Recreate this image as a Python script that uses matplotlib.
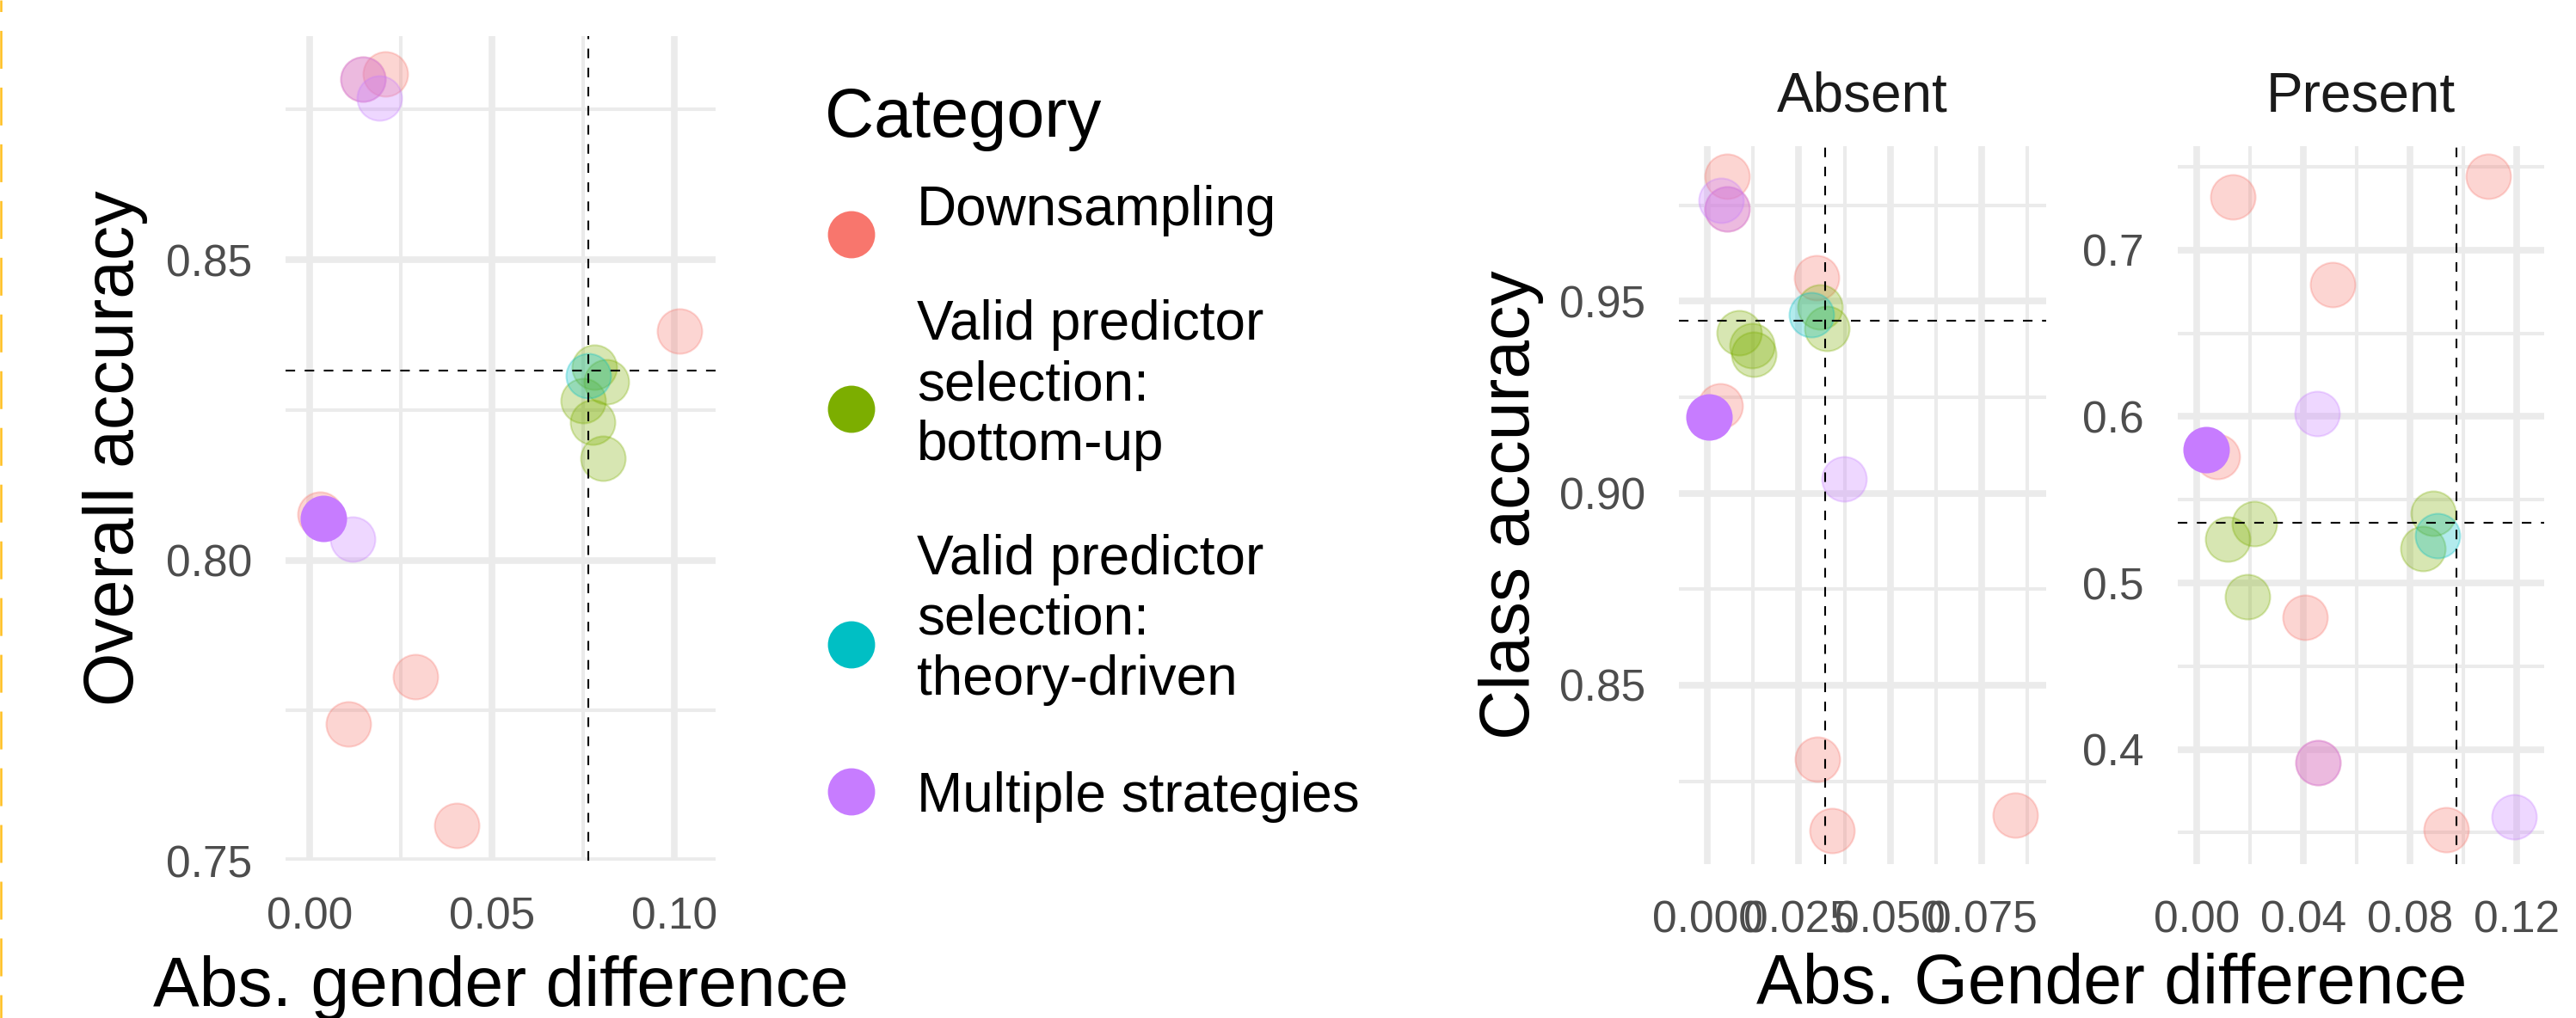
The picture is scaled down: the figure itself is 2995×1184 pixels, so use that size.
import matplotlib.pyplot as plt
import matplotlib.colors as mcolors
from matplotlib.lines import Line2D
from matplotlib.ticker import FormatStrFormatter

plt.rcParams['font.family'] = ['Liberation Sans', 'DejaVu Sans']
plt.rcParams['lines.scale_dashes'] = False

# Categories and ggplot-style hue colours
categories = ['Downsampling',
              'Valid predictor\nselection:\nbottom-up',
              'Valid predictor\nselection:\ntheory-driven',
              'Multiple strategies']
cat_colors = ['#F8766D', '#7CAE00', '#00BFC4', '#C77CFF']

# category of each model (same order in all panels)
point_cat = [0] * 7 + [1] * 5 + [2] + [3] * 4
best = 15  # model shown fully opaque

# Overall accuracy vs abs. gender difference
overall_x = [0.0208, 0.0146, 0.1015, 0.0028, 0.0290, 0.0107, 0.0403,
             0.0780, 0.0814, 0.0749, 0.0776, 0.0803,
             0.0765,
             0.0146, 0.0191, 0.0037, 0.0118]
overall_y = [0.8810, 0.8801, 0.8381, 0.8077, 0.7806, 0.7727, 0.7558,
             0.8322, 0.8297, 0.8265, 0.8230, 0.8170,
             0.8307,
             0.8801, 0.8769, 0.8069, 0.8035]
overall_ref = (0.0765, 0.8316)

# Class accuracy, class "Absent"
absent_x = [0.0053, 0.0055, 0.0298, 0.0035, 0.0301, 0.0341, 0.0841,
            0.0308, 0.0327, 0.0087, 0.0122, 0.0126,
            0.0285,
            0.0038, 0.0055, 0.0004, 0.0373]
absent_y = [0.9826, 0.9740, 0.9561, 0.9228, 0.8306, 0.8121, 0.8162,
            0.9486, 0.9430, 0.9417, 0.9385, 0.9363,
            0.9466,
            0.9763, 0.9740, 0.9199, 0.9038]
absent_ref = (0.0321, 0.9449)

# Class accuracy, class "Present"
present_x = [0.1094, 0.0136, 0.0508, 0.0077, 0.0407, 0.0934, 0.0454,
             0.0887, 0.0216, 0.0117, 0.0847, 0.0189,
             0.0903,
             0.0454, 0.0450, 0.0035, 0.1190]
present_y = [0.7441, 0.7320, 0.6793, 0.5759, 0.4796, 0.3516, 0.3919,
             0.5420, 0.5357, 0.5264, 0.5205, 0.4920,
             0.5283,
             0.3919, 0.6017, 0.5802, 0.3594]
present_ref = (0.0973, 0.5363)

W, H = 2995, 1184
fig = plt.figure(figsize=(W / 100, H / 100), dpi=100)


def px_axes(left, top, right, bottom):
    return fig.add_axes([left / W, 1 - bottom / H, (right - left) / W, (bottom - top) / H])


def panel(ax, xs, ys, ref, xlim, ylim, xmaj, xmin, ymaj, ymin, xfmt, yfmt):
    ax.set_xlim(xlim)
    ax.set_ylim(ylim)
    ax.set_xticks(xmaj)
    ax.set_xticks(xmin, minor=True)
    ax.set_yticks(ymaj)
    ax.set_yticks(ymin, minor=True)
    ax.xaxis.set_major_formatter(FormatStrFormatter(xfmt))
    ax.yaxis.set_major_formatter(FormatStrFormatter(yfmt))
    ax.grid(which='major', color='#EBEBEB', lw=5.5)
    ax.grid(which='minor', color='#EBEBEB', lw=2.9)
    ax.set_axisbelow(True)
    for s in ax.spines.values():
        s.set_visible(False)
    ax.tick_params(which='both', length=0)
    ax.tick_params(axis='y', pad=28, labelsize=37, labelcolor='#4D4D4D')
    ax.tick_params(axis='x', pad=30, labelsize=37, labelcolor='#4D4D4D')

    order = [i for i in range(len(xs)) if i != best] + [best]
    for i in order:
        c = cat_colors[point_cat[i]]
        a = 1.0 if i == best else 0.3
        ax.scatter(xs[i], ys[i], s=1400, color=mcolors.to_rgba(c, a),
                   edgecolors=mcolors.to_rgba(c, a), linewidths=1.5,
                   zorder=2, clip_on=False)
    ax.axvline(ref[0], color='black', lw=1.5, ls=(0, (8, 8)), zorder=3)
    ax.axhline(ref[1], color='black', lw=1.5, ls=(0, (8, 8)), zorder=3)


ax1 = px_axes(331.8, 41.5, 832.4, 1001)
panel(ax1, overall_x, overall_y, overall_ref, (-0.00665, 0.1114), (0.75, 0.8873),
      [0, 0.05, 0.10], [0.025, 0.075], [0.75, 0.80, 0.85], [0.775, 0.825, 0.875],
      '%.2f', '%.2f')

ax2 = px_axes(1951.9, 170, 2378.9, 1004.5)
panel(ax2, absent_x, absent_y, absent_ref, (-0.00778, 0.0926), (0.8035, 0.9904),
      [0, 0.025, 0.05, 0.075], [0.0125, 0.0375, 0.0625, 0.0875],
      [0.85, 0.90, 0.95], [0.825, 0.875, 0.925, 0.975], '%.3f', '%.2f')

ax3 = px_axes(2531.7, 170, 2957.9, 1004.5)
panel(ax3, present_x, present_y, present_ref, (-0.0072, 0.1302), (0.3314, 0.7624),
      [0, 0.04, 0.08, 0.12], [0.02, 0.06, 0.10],
      [0.4, 0.5, 0.6, 0.7], [0.35, 0.45, 0.55, 0.65, 0.75], '%.2f', '%.1f')

# overlay in pixel coordinates for titles and legend
ov = fig.add_axes([0, 0, 1, 1])
ov.set_xlim(0, W)
ov.set_ylim(H, 0)
ov.axis('off')

ov.text(582, 1170, 'Abs. gender difference', fontsize=58, ha='center', va='baseline')
ov.text(155, 521, 'Overall accuracy', fontsize=58, ha='center', va='baseline',
        rotation=90, rotation_mode='anchor')
ov.text(2455, 1167, 'Abs. Gender difference', fontsize=58, ha='center', va='baseline')
ov.text(1778, 587, 'Class accuracy', fontsize=58, ha='center', va='baseline',
        rotation=90, rotation_mode='anchor')
ov.text(2165, 130, 'Absent', fontsize=46, color='#1A1A1A', ha='center', va='baseline')
ov.text(2745, 130, 'Present', fontsize=46, color='#1A1A1A', ha='center', va='baseline')

# legend
ov.text(959, 159, 'Category', fontsize=57, ha='left', va='baseline')
key_y = [273, 476, 750, 921]
ov.scatter([990] * 4, key_y, s=1560, c=cat_colors, linewidths=0)
label_baselines = [[262], [395, 465, 535], [668, 738, 808], [944]]
for lab, ys in zip(categories, label_baselines):
    for line, yb in zip(lab.split('\n'), ys):
        ov.text(1066, yb, line, fontsize=46, ha='left', va='baseline')

# dashed gold border on the left edge
ov.add_line(Line2D([1.2, 1.2], [0, H], color='#FFBF1F', lw=1.8,
                   ls=(22, (31.7, 15.8))))

fig.savefig('out.png', dpi=100)
